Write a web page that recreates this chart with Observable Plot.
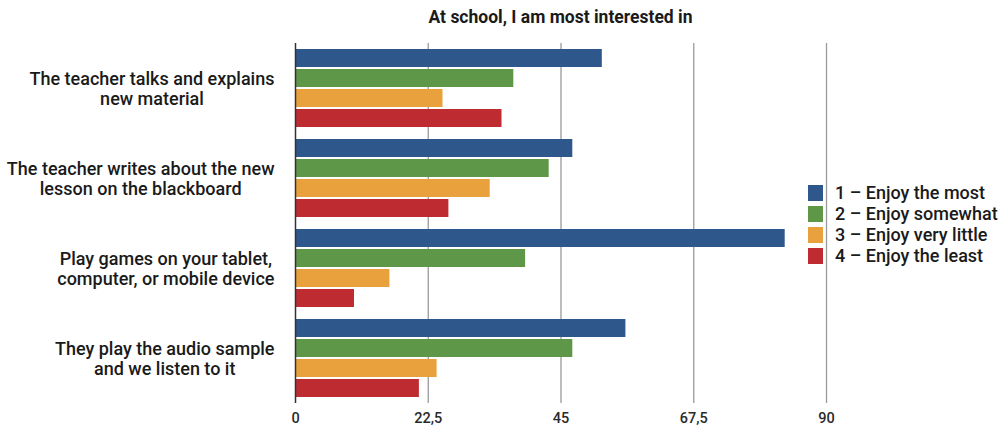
<!DOCTYPE html>
<html>
<head>
<meta charset="utf-8">
<script src="https://cdn.jsdelivr.net/npm/d3@7"></script>
<script src="https://cdn.jsdelivr.net/npm/@observablehq/plot@0.6"></script>
<style>
  body { margin: 0; background: #fff; font-family: Roboto, "Noto Sans", sans-serif; }
  #wrap { position: relative; width: 1001px; height: 427px; overflow: hidden; }
  #title { height: 30px; line-height: 34px; font-size: 17.5px; font-weight: bold; color: #1a1a1a;
           padding-left: 295px; width: 531px; text-align: center; white-space: nowrap; }
  #legend { position: absolute; left: 808px; top: 182px; font-size: 18px; font-weight: 500; color: #1a1a1a; }
  .row { display: flex; align-items: center; height: 21px; }
  .sw { width: 15px; height: 16px; margin-right: 12px; }
</style>
</head>
<body>
<div id="wrap">
  <div id="title">At school, I am most interested in</div>
  <div id="chart"></div>
  <div id="legend"></div>
</div>
<script>
// Survey answers: share of students per activity and rating
const activities = [
  "The teacher talks and explains\nnew material",
  "The teacher writes about the new\nlesson on the blackboard",
  "Play games on your tablet,\ncomputer, or mobile device",
  "They play the audio sample\nand we listen to it"
];
const ratings = [
  "1 \u2013 Enjoy the most",
  "2 \u2013 Enjoy somewhat",
  "3 \u2013 Enjoy very little",
  "4 \u2013 Enjoy the least"
];
const enjoyMost = [52, 47, 83, 56];
const enjoySomewhat = [37, 43, 39, 47];
const enjoyLittle = [25, 33, 16, 24];
const enjoyLeast = [35, 26, 10, 21];
const ratingColors = ["#2e588c", "#5e9748", "#e8a13c", "#be2c32"];
const xTicks = [0, 22.5, 45, 67.5, 90];

const series = [enjoyMost, enjoySomewhat, enjoyLittle, enjoyLeast];
const rows = activities.flatMap((activity, i) =>
  ratings.map((rating, j) => ({activity, rating, value: series[j][i]}))
);

// Width of each wrapped label so its lines can be centred as a block
const labelFont = {size: 18, weight: 500};
const ctx = document.createElement("canvas").getContext("2d");
ctx.font = `${labelFont.weight} ${labelFont.size}px Roboto`;
const labelWidth = s => Math.max(...s.split("\n").map(l => ctx.measureText(l).width));

const labelMarks = activities.map(a =>
  Plot.text([a], {
    fy: d => d,
    text: d => d,
    frameAnchor: "left",
    textAnchor: "middle",
    lineHeight: 20 / labelFont.size,
    dx: -(21 + labelWidth(a) / 2),
    fontSize: labelFont.size,
    fontWeight: labelFont.weight,
    fill: "#1a1a1a"
  })
);

const chart = Plot.plot({
  width: 1001,
  height: 397,
  marginTop: 13,
  marginBottom: 24,
  marginLeft: 295,
  marginRight: 175,
  style: {fontFamily: "Roboto, sans-serif", background: "transparent"},
  x: {domain: [0, 90], axis: null},
  y: {domain: ratings, axis: null, paddingInner: 0.12, paddingOuter: 0.24},
  fy: {domain: activities, axis: null, padding: 0},
  color: {domain: ratings, range: ratingColors},
  marks: [
    Plot.ruleX(xTicks.slice(1), {stroke: "#9a9a9a", strokeWidth: 1.3}),
    Plot.barX(rows, {fy: "activity", y: "rating", x: "value", fill: "rating"}),
    Plot.ruleX([0], {stroke: "#333", strokeWidth: 1.5}),
    Plot.axisX(xTicks, {
      label: null, tickSize: 0, tickPadding: 9, fontSize: 14.5, fontWeight: 500, fill: "#2a2a2a",
      tickFormat: d => String(d).replace(".", ",")
    }),
    ...labelMarks
  ]
});
document.getElementById("chart").appendChild(chart);

// Legend
const legend = document.getElementById("legend");
ratings.forEach((r, i) => {
  const row = document.createElement("div");
  row.className = "row";
  const sw = document.createElement("div");
  sw.className = "sw";
  sw.style.background = ratingColors[i];
  const label = document.createElement("span");
  label.textContent = r;
  row.appendChild(sw);
  row.appendChild(label);
  legend.appendChild(row);
});
</script>
</body>
</html>
